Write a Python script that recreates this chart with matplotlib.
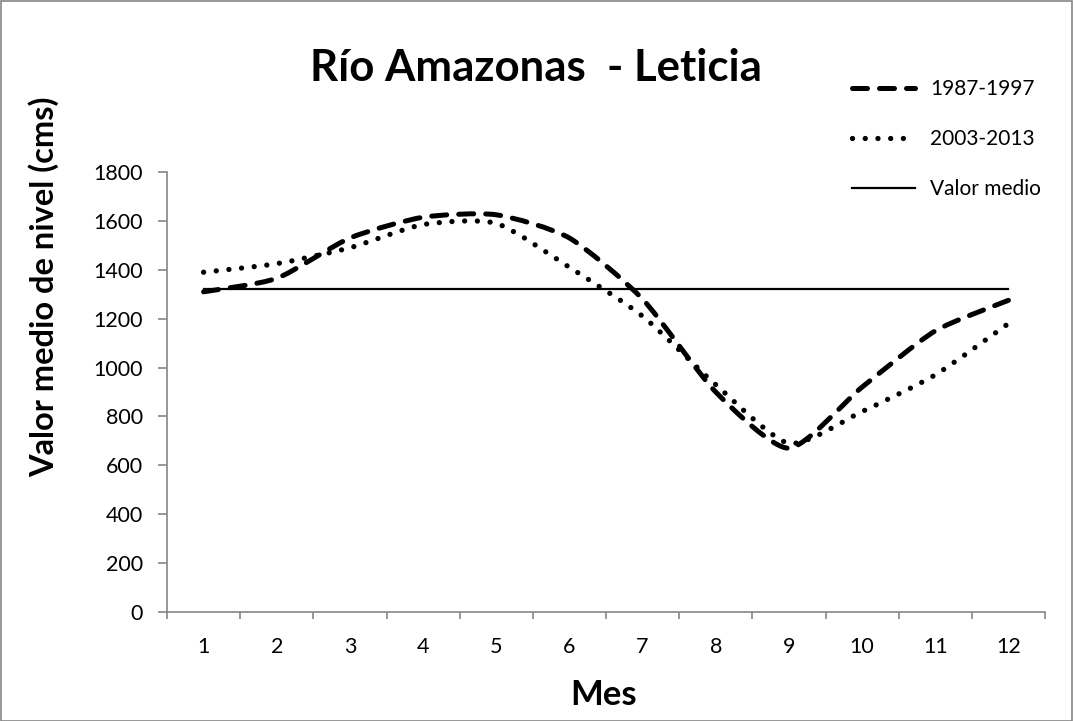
import matplotlib
matplotlib.use("Agg")
import matplotlib.pyplot as plt
from matplotlib.path import Path
from matplotlib.patches import PathPatch, Rectangle
from matplotlib.lines import Line2D
import numpy as np

plt.rcParams['font.family'] = ['Lato', 'DejaVu Sans']

months = [1, 2, 3, 4, 5, 6, 7, 8, 9, 10, 11, 12]
serie_1987_1997 = [1310, 1365, 1530, 1615, 1625, 1530, 1280, 900, 670, 920, 1150, 1275]
serie_2003_2013 = [1390, 1425, 1490, 1585, 1590, 1410, 1210, 930, 690, 820, 970, 1180]
valor_medio = 1320
labels = ["1987-1997", "2003-2013", "Valor medio"]
title = "Río Amazonas  - Leticia"
xlabel = "Mes"
ylabel = "Valor medio de nivel (cms)"
yticks = [0, 200, 400, 600, 800, 1000, 1200, 1400, 1600, 1800]

W, H, DPI = 1073, 721, 100
fig = plt.figure(figsize=(W / DPI, H / DPI), dpi=DPI)
ax = fig.add_axes([167 / W, 1 - 612 / H, (1045 - 167) / W, (612 - 172) / H])


def smooth_path(xs, ys, k=1 / 9.0):
    pts = np.column_stack([xs, ys]).astype(float)
    n = len(pts)
    verts = [pts[0]]
    codes = [Path.MOVETO]
    for i in range(n - 1):
        p0 = pts[i - 1] if i > 0 else pts[i]
        p1 = pts[i]
        p2 = pts[i + 1]
        p3 = pts[i + 2] if i + 2 < n else pts[i + 1]
        c1 = p1 + (p2 - p0) * k
        c2 = p2 - (p3 - p1) * k
        verts += [c1, c2, p2]
        codes += [Path.CURVE4] * 3
    return Path(verts, codes)


LW_DASH = 3.6
LW_DOT = 3.8
DASH = (0, (3.0, 2.4))
DOT = (0, (0.01, 2.4))

ax.add_patch(PathPatch(smooth_path(months, serie_1987_1997), fill=False,
                       edgecolor='black', linestyle=DASH, linewidth=LW_DASH,
                       capstyle='round', zorder=3))
ax.add_patch(PathPatch(smooth_path(months, serie_2003_2013), fill=False,
                       edgecolor='black', linestyle=DOT, linewidth=LW_DOT,
                       capstyle='round', zorder=3))
ax.plot([months[0], months[-1]], [valor_medio, valor_medio], color='black',
        linewidth=1.6, zorder=2)

ax.set_xlim(0.5, 12.5)
ax.set_ylim(0, 1800)
ax.set_yticks(yticks)
ax.set_yticklabels([str(v) for v in yticks], fontsize=15.5)
ax.set_xticks(months)
ax.set_xticklabels([str(m) for m in months], fontsize=15.5)
ax.set_xticks(np.arange(0.5, 13, 1), minor=True)
ax.tick_params(axis='x', which='major', length=0, pad=18)
ax.tick_params(axis='x', which='minor', length=5, color='#868686', width=1.2)
ax.tick_params(axis='y', length=6.5, color='#868686', width=1.2, pad=11)
for s in ['top', 'right']:
    ax.spines[s].set_visible(False)
for s in ['left', 'bottom']:
    ax.spines[s].set_color('#868686')
    ax.spines[s].set_linewidth(1.2)

fig.text(536 / W, 1 - 81 / H, title, ha='center', va='baseline', fontsize=31.5,
         fontweight='bold')
fig.text(44 / W, 1 - 287 / H, ylabel, ha='center', va='center', rotation=90,
         fontsize=23.5, fontweight='bold')
fig.text(604 / W, 1 - 705 / H, xlabel, ha='center', va='baseline', fontsize=25,
         fontweight='bold')

handles = [Line2D([], [], color='black', linestyle=DASH, linewidth=LW_DASH,
                  dash_capstyle='round'),
           Line2D([], [], color='black', linestyle=DOT, linewidth=LW_DOT,
                  dash_capstyle='round'),
           Line2D([], [], color='black', linewidth=1.6)]
fig.legend(handles, labels, loc='upper left', bbox_to_anchor=(852 / W, 1 - 79 / H),
           frameon=False, fontsize=15, handlelength=3.0, labelspacing=1.45,
           handletextpad=0.75, borderpad=0, borderaxespad=0)

fig.add_artist(Rectangle((0.5 / W, 0.5 / H), 1 - 1.5 / W, 1 - 1.5 / H,
                         transform=fig.transFigure, fill=False,
                         edgecolor='#868686', linewidth=1.2))

fig.savefig('out.png', dpi=DPI)
